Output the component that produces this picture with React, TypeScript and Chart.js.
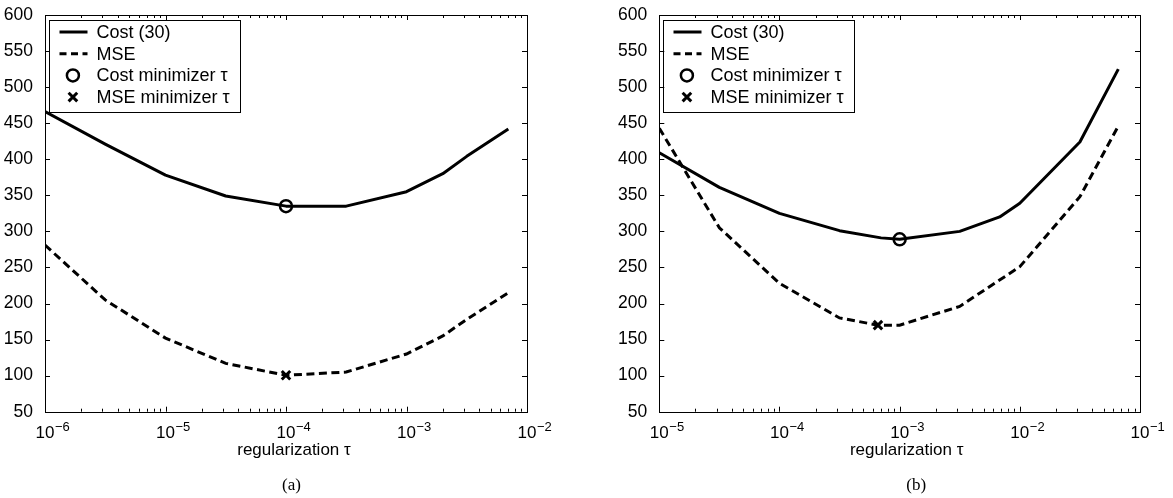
import React, { useEffect, useRef } from "react";
import { Chart, registerables } from "chart.js";

Chart.register(...registerables);

// ---------- data ----------
const seriesLabels = ["Cost (30)", "MSE", "Cost minimizer τ", "MSE minimizer τ"];
const yTickStep = 50;

// panel (a)
const aTau = [1e-6, 3.16e-6, 1e-5, 3.16e-5, 1e-4, 3.16e-4, 1e-3, 2e-3, 3.16e-3, 7e-3];
const aCost = [466, 421, 378, 349, 335, 335, 355, 380, 404, 442];
const aMse = [281, 205, 152, 117, 100.5, 105, 130, 155, 178, 215];
const aCostMin = [1e-4, 335];
const aMseMin = [1e-4, 100.5];
const aRange = [1e-6, 1e-2];

// panel (b)
const bTau = [1e-5, 3.16e-5, 1e-4, 3.16e-4, 7e-4, 1e-3, 3.16e-3, 6.8e-3, 1e-2, 3.16e-2, 6.6e-2];
const bCost = [409, 361, 325, 301, 291, 289, 300, 320, 339, 424, 525];
const bMseTau = [1e-5, 3.16e-5, 1e-4, 3.16e-4, 6.6e-4, 1e-3, 3.16e-3, 1e-2, 3.16e-2, 6.6e-2];
const bMse = [443, 305, 228, 180, 170, 170, 196, 251, 348, 446];
const bCostMin = [1e-3, 289];
const bMseMin = [6.6e-4, 170];
const bRange = [1e-5, 1e-1];

const yRange = [50, 600];

const SANS = '"Liberation Sans", Arial, Helvetica, sans-serif';
const SERIF = '"Liberation Serif", "Times New Roman", serif';

const framePlugin = {
  id: "frame",
  afterDatasetsDraw(chart: any, _args: any, opts: any) {
    const { ctx, chartArea: a, scales } = chart;
    const x = scales.x;
    const y = scales.y;
    ctx.save();
    ctx.strokeStyle = "#000";
    ctx.lineWidth = 1;
    ctx.setLineDash([]);
    // box
    ctx.strokeRect(Math.round(a.left) + 0.5, Math.round(a.top) + 0.5, Math.round(a.right - a.left), Math.round(a.bottom - a.top));
    ctx.beginPath();
    // y ticks
    for (let v = y.min; v <= y.max + 1e-9; v += yTickStep) {
      const py = Math.round(y.getPixelForValue(v)) + 0.5;
      ctx.moveTo(a.left, py);
      ctx.lineTo(a.left + 5, py);
      ctx.moveTo(a.right, py);
      ctx.lineTo(a.right - 5, py);
    }
    // x ticks
    const k0 = Math.round(Math.log10(x.min));
    const k1 = Math.round(Math.log10(x.max));
    for (let k = k0; k <= k1; k++) {
      for (let m = 1; m <= 9; m++) {
        const v = m * Math.pow(10, k);
        if (v > x.max * 1.0001) break;
        const px = Math.round(x.getPixelForValue(v)) + 0.5;
        const len = m === 1 ? 5 : 3;
        ctx.moveTo(px, a.bottom);
        ctx.lineTo(px, a.bottom - len);
        ctx.moveTo(px, a.top);
        ctx.lineTo(px, a.top + len);
      }
    }
    ctx.stroke();

    // x tick labels with superscript exponents
    ctx.fillStyle = "#000";
    for (let k = k0; k <= k1; k++) {
      const px = x.getPixelForValue(Math.pow(10, k));
      ctx.font = "17px " + SANS;
      ctx.textAlign = "center";
      ctx.textBaseline = "alphabetic";
      ctx.fillText("10", px, a.bottom + 26);
      ctx.font = "13px " + SANS;
      ctx.textAlign = "left";
      ctx.fillText("\u2212" + String(-k), px + 10, a.bottom + 19.5);
    }
    // axis title
    const cx = (a.left + a.right) / 2;
    ctx.font = "17px " + SANS;
    ctx.textAlign = "center";
    ctx.fillText("regularization \u03c4", cx + opts.titleDx, a.bottom + 43.5);
    // panel label
    ctx.font = "17px " + SERIF;
    ctx.fillText(opts.panel, cx + opts.panelDx, a.bottom + 78);

    // legend
    const bx = Math.round(a.left + 4) + 0.5;
    const by = Math.round(a.top + 5) + 0.5;
    ctx.lineWidth = 1;
    ctx.strokeRect(bx, by, 191, 92);
    chart.data.datasets.forEach((ds: any, i: number) => {
      const ry = by + 11.5 + i * 21.7;
      ctx.save();
      ctx.strokeStyle = "#000";
      if (ds.showLine !== false) {
        ctx.lineWidth = ds.borderWidth;
        ctx.setLineDash(ds.borderDash ? [7, 4.5] : []);
        ctx.beginPath();
        ctx.moveTo(bx + 10, ry);
        ctx.lineTo(bx + 38, ry);
        ctx.stroke();
      } else {
        const sx = bx + 23.4;
        ctx.lineWidth = ds.pointBorderWidth;
        ctx.beginPath();
        if (ds.pointStyle === "circle") {
          ctx.arc(sx, ry, ds.pointRadius, 0, Math.PI * 2);
        } else {
          const r = ds.pointRadius * 0.72;
          ctx.moveTo(sx - r, ry - r);
          ctx.lineTo(sx + r, ry + r);
          ctx.moveTo(sx + r, ry - r);
          ctx.lineTo(sx - r, ry + r);
        }
        ctx.stroke();
      }
      ctx.restore();
      ctx.fillStyle = "#000";
      ctx.font = "18px " + SANS;
      ctx.textAlign = "left";
      ctx.textBaseline = "middle";
      ctx.fillText(ds.label, bx + 47, ry + 1);
    });
    ctx.restore();
  },
};

type PanelProps = {
  tau: number[];
  cost: number[];
  mseTau: number[];
  mse: number[];
  costMin: number[];
  mseMin: number[];
  range: number[];
  left: number;
  width: number;
  yAxisWidth: number;
  padRight: number;
  panel: string;
  titleDx: number;
  panelDx: number;
};

function Panel(p: PanelProps) {
  const ref = useRef<HTMLCanvasElement | null>(null);
  useEffect(() => {
    if (!ref.current) return;
    const chart = new Chart(ref.current, {
      type: "line",
      data: {
        datasets: [
          {
            label: seriesLabels[0],
            data: p.tau.map((t, i) => ({ x: t, y: p.cost[i] })),
            borderColor: "#000",
            borderWidth: 3,
            pointRadius: 0,
            fill: false,
            tension: 0,
            borderJoinStyle: "round",
          },
          {
            label: seriesLabels[1],
            data: p.mseTau.map((t, i) => ({ x: t, y: p.mse[i] })),
            borderColor: "#000",
            borderWidth: 3,
            borderDash: [8, 4.5],
            pointRadius: 0,
            fill: false,
            tension: 0,
          },
          {
            label: seriesLabels[2],
            data: [{ x: p.costMin[0], y: p.costMin[1] }],
            showLine: false,
            pointStyle: "circle",
            pointRadius: 6,
            pointBorderWidth: 2.5,
            pointBorderColor: "#000",
            pointBackgroundColor: "rgba(0,0,0,0)",
          },
          {
            label: seriesLabels[3],
            data: [{ x: p.mseMin[0], y: p.mseMin[1] }],
            showLine: false,
            pointStyle: "crossRot",
            pointRadius: 6,
            pointBorderWidth: 3,
            pointBorderColor: "#000",
            pointBackgroundColor: "rgba(0,0,0,0)",
          },
        ],
      } as any,
      options: {
        animation: false,
        responsive: false,
        devicePixelRatio: 1,
        layout: { padding: { top: 15, right: p.padRight, left: 0, bottom: 0 } },
        plugins: {
          legend: { display: false },
          tooltip: { enabled: false },
          frame: { panel: p.panel, titleDx: p.titleDx, panelDx: p.panelDx },
        } as any,
        scales: {
          x: {
            type: "logarithmic",
            min: p.range[0],
            max: p.range[1],
            grid: { display: false },
            border: { display: false },
            ticks: { display: false },
            afterFit: (s: any) => {
              s.height = 86.3;
            },
          },
          y: {
            type: "linear",
            min: yRange[0],
            max: yRange[1],
            grid: { display: false },
            border: { display: false },
            ticks: {
              stepSize: yTickStep,
              color: "#000",
              padding: 4,
              font: { family: SANS, size: 17.5 },
            },
            afterFit: (s: any) => {
              s.width = p.yAxisWidth;
            },
          },
        },
      } as any,
      plugins: [framePlugin as any],
    });
    return () => chart.destroy();
  }, []);
  return (
    <canvas
      ref={ref}
      width={p.width}
      height={498}
      style={{ position: "absolute", left: p.left, top: 0, width: p.width, height: 498 }}
    />
  );
}

export default function App() {
  return (
    <div style={{ position: "absolute", left: 0, top: 0, width: 1173, height: 498, background: "#fff" }}>
      <Panel
        tau={aTau}
        cost={aCost}
        mseTau={aTau}
        mse={aMse}
        costMin={aCostMin}
        mseMin={aMseMin}
        range={aRange}
        left={0}
        width={586}
        yAxisWidth={45}
        padRight={59}
        panel="(a)"
        titleDx={8}
        panelDx={5.5}
      />
      <Panel
        tau={bTau}
        cost={bCost}
        mseTau={bMseTau}
        mse={bMse}
        costMin={bCostMin}
        mseMin={bMseMin}
        range={bRange}
        left={586}
        width={587}
        yAxisWidth={73.3}
        padRight={33}
        panel="(b)"
        titleDx={7}
        panelDx={16.5}
      />
    </div>
  );
}
